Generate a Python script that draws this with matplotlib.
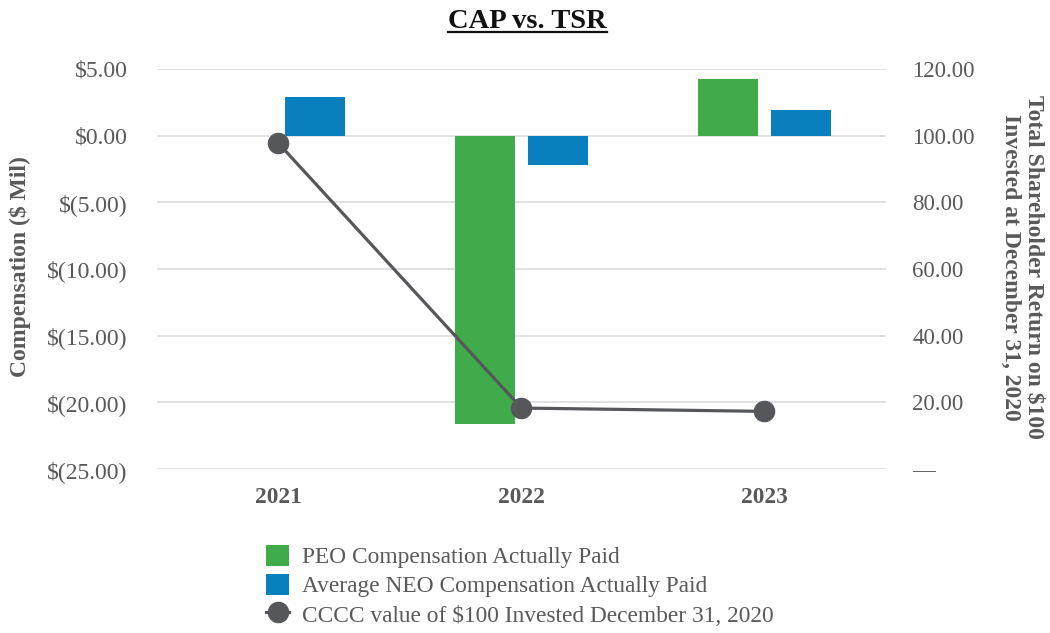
import matplotlib
matplotlib.use("Agg")
import matplotlib.pyplot as plt
import matplotlib.ticker as mticker
from matplotlib.lines import Line2D
from matplotlib.patches import Patch
import numpy as np

# ── Data ──────────────────────────────────────────────────────────────────────
YEARS = ["2021", "2022", "2023"]
PEO_CAP = [0.0, -21.6, 4.24]        # $ Mil
NEO_CAP = [2.87, -2.19, 1.94]       # $ Mil
TSR = [97.7, 18.3, 17.3]            # value of $100 invested

# ── Style ─────────────────────────────────────────────────────────────────────
GREEN = "#40AB4A"
BLUE = "#0A7FBE"
LINE = "#55575B"
GRID = "#DCDCDC"
TXT = "#595959"
SERIF = ["Liberation Serif", "DejaVu Serif"]

plt.rcParams["font.family"] = SERIF

fig = plt.figure(figsize=(10.5, 6.33), dpi=100, facecolor="white")
ax = fig.add_axes([0.1495, 0.259, 0.6943, 0.632])
ax2 = ax.twinx()

x = np.arange(len(YEARS))
BAR_W = 0.247
OFF = 0.15

ax.bar(x - OFF, PEO_CAP, width=BAR_W, color=GREEN, zorder=3, linewidth=0)
ax.bar(x + OFF, NEO_CAP, width=BAR_W, color=BLUE, zorder=3, linewidth=0)

ax2.plot(x, TSR, color=LINE, linewidth=2.3, marker="o", markersize=14.5,
         zorder=5)


def money(v, _pos):
    if v < 0:
        return f"$({-v:.2f})"
    return f"${v:.2f}"


def tsr_fmt(v, _pos):
    if abs(v) < 1e-9:
        return "\u2014"
    return f"{v:.2f}"


ax.set_xlim(-0.5, 2.5)
ax.set_ylim(-25, 5)
ax.yaxis.set_major_locator(mticker.MultipleLocator(5))
ax.yaxis.set_major_formatter(mticker.FuncFormatter(money))
ax2.set_ylim(0, 120)
ax2.yaxis.set_major_locator(mticker.MultipleLocator(20))
ax2.yaxis.set_major_formatter(mticker.FuncFormatter(tsr_fmt))

ax.set_xticks(x)
ax.set_xticklabels(YEARS, fontweight="bold")
ax.tick_params(axis="x", length=0, pad=13, labelsize=16.8, labelcolor=TXT)
ax.tick_params(axis="y", length=0, pad=21, labelsize=17, labelcolor=TXT)
ax2.tick_params(axis="y", length=0, pad=19, labelsize=16.5, labelcolor=TXT)

ax.yaxis.grid(True, color=GRID, linewidth=1.2, zorder=0)
ax.set_axisbelow(True)
for a in (ax, ax2):
    for s in a.spines.values():
        s.set_visible(False)

# ── Axis titles ───────────────────────────────────────────────────────────────
fig.text(20 / 1050, 1 - 267 / 633, "Compensation ($ Mil)", rotation=90,
         ha="center", va="center", fontsize=17, fontweight="bold",
         color=TXT)
fig.text(1022 / 1050, 1 - 267 / 633,
         "Total Shareholder Return on $100\nInvested at December 31, 2020",
         rotation=270, ha="center", va="center", multialignment="center",
         fontsize=17, fontweight="bold", color=TXT, linespacing=1.15)

# ── Title with underline ──────────────────────────────────────────────────────
title = fig.text(0.5024, 1 - 28 / 633, "CAP vs. TSR", ha="center",
                 va="baseline", fontsize=20.5, fontweight="bold",
                 color="#111111")
fig.canvas.draw()
bb = title.get_window_extent().transformed(fig.transFigure.inverted())
uy = 1 - 31.5 / 633
fig.add_artist(Line2D([bb.x0, bb.x1], [uy, uy], transform=fig.transFigure,
                      color="#111111", linewidth=1.6))

# ── Legend ────────────────────────────────────────────────────────────────────
handles = [
    Patch(facecolor=GREEN, edgecolor="none",
          label="PEO Compensation Actually Paid"),
    Patch(facecolor=BLUE, edgecolor="none",
          label="Average NEO Compensation Actually Paid"),
    Line2D([], [], color=LINE, linewidth=2.3, marker="o", markersize=14.5,
           label="CCCC value of $100 Invested December 31, 2020"),
]
leg = fig.legend(handles=handles, loc="upper left",
                 bbox_to_anchor=(266 / 1050, 1 - 545 / 633), frameon=False,
                 fontsize=16.8, handlelength=1.0, handleheight=1.0,
                 handletextpad=0.55, labelspacing=0.24, borderpad=0,
                 borderaxespad=0)
for t in leg.get_texts():
    t.set_color(TXT)

fig.savefig("out.png", dpi=100, facecolor="white")
plt.close(fig)
